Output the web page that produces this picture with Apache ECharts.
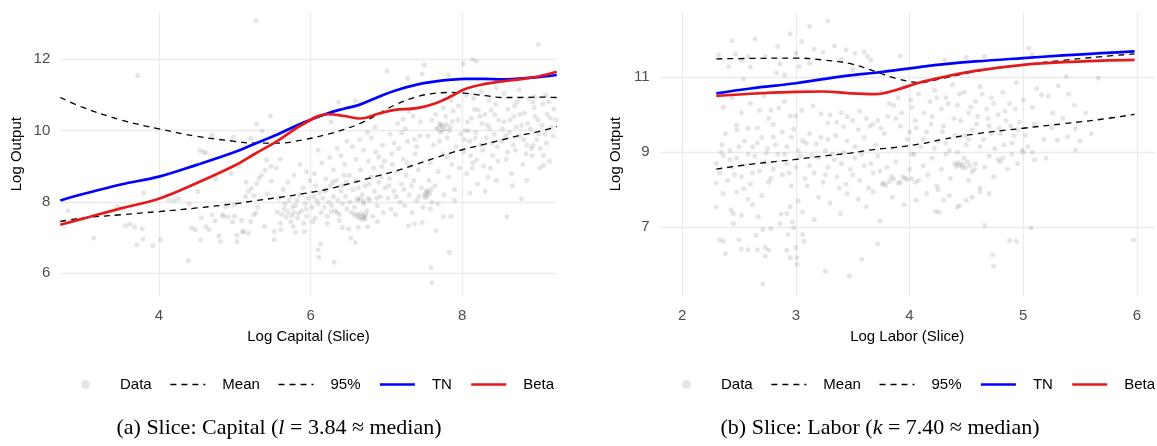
<!DOCTYPE html>
<html><head><meta charset="utf-8">
<script src="https://cdn.jsdelivr.net/npm/echarts@6/dist/echarts.min.js"></script>
<style>html,body{margin:0;padding:0;background:#fff}#c{width:1157px;height:446px}</style>
</head><body><div id="c"></div>
<script>
// ---------- legend / tick labels ----------
const seriesNames = ['Data', 'Mean', '95%', 'TN', 'Beta'];
const capitalXTicks = [4, 6, 8];
const capitalYTicks = [6, 8, 10, 12];
const laborXTicks = [2, 3, 4, 5, 6];
const laborYTicks = [7, 9, 11];

// ---------- panel (a): capital slice curves ----------
const capitalX    = [2.70, 3.0, 3.5, 4.0, 4.5, 5.0, 5.25, 5.57, 5.9, 6.23, 6.45, 6.65, 6.9, 7.11, 7.4, 7.65, 7.86, 8.03, 8.3, 8.52, 8.75, 9.0, 9.245];
const capitalMean = [7.45, 7.55, 7.64, 7.73, 7.83, 7.95, 8.03, 8.12, 8.23, 8.36, 8.48, 8.59, 8.74, 8.86, 9.06, 9.24, 9.38, 9.48, 9.62, 9.74, 9.86, 9.97, 10.11];
const capital95   = [10.93, 10.65, 10.30, 10.05, 9.84, 9.70, 9.65, 9.65, 9.74, 9.90, 10.04, 10.20, 10.47, 10.72, 10.95, 11.05, 11.07, 11.05, 10.98, 10.93, 10.93, 10.94, 10.93];
const capitalTN   = [8.04, 8.22, 8.49, 8.71, 9.04, 9.40, 9.62, 9.90, 10.22, 10.49, 10.62, 10.73, 10.95, 11.12, 11.29, 11.38, 11.43, 11.45, 11.45, 11.44, 11.46, 11.50, 11.56];
const capitalBeta = [7.36, 7.53, 7.82, 8.09, 8.53, 9.02, 9.33, 9.72, 10.18, 10.46, 10.41, 10.34, 10.48, 10.58, 10.63, 10.77, 10.97, 11.16, 11.31, 11.38, 11.44, 11.52, 11.65];

// ---------- panel (a): observed points (log capital, log output) ----------
const capitalPoints = [
[5.28,13.08],[3.72,11.55],[9.0,12.42],[2.80,7.75],[3.14,6.99],[3.80,8.25],[3.56,7.34],[3.62,7.38],[3.68,7.29],[3.78,7.25],[3.79,6.96],[3.71,6.80],[3.92,6.77],[4.02,6.94],[3.45,7.87],[4.13,8.06],[4.20,8.04],[4.26,8.09],[4.40,7.95],[4.39,6.35],[4.51,8.29],[4.43,7.27],[4.48,7.22],[4.55,6.94],[4.62,7.30],[4.66,7.22],[4.56,7.55],[4.70,7.64],[4.74,7.47],[4.79,7.05],[4.81,6.89],[4.85,7.60],[4.91,7.58],[4.97,7.44],[5.00,7.60],[5.09,7.48],[5.10,7.17],[5.03,6.89],[5.03,7.07],[5.12,7.17],[5.18,7.12],[5.21,7.45],[5.25,7.64],[5.28,7.69],[5.30,7.85],[5.14,8.15],[5.18,8.30],[5.22,8.38],[5.29,8.52],[5.32,8.66],[5.40,8.89],[5.42,9.18],[5.48,9.00],[5.48,8.59],[5.43,8.22],[5.39,7.31],[5.52,7.17],[5.52,6.94],[5.25,8.17],[4.99,7.92],[4.88,7.87],[4.84,7.64],
[4.54,9.44],[4.62,9.38],[4.70,9.87],[4.98,9.82],[5.21,9.78],[5.29,10.18],[5.36,10.0],[5.47,10.42],[4.59,9.40],
[4.75,8.65],[4.95,8.80],[5.05,9.00],[5.15,8.55],[5.35,8.75],[5.55,8.95],[5.60,9.20],
[5.61,7.22],[5.77,7.31],[5.92,7.17],[5.80,7.15],[6.13,6.82],[6.10,6.66],[6.11,6.45],[6.31,6.31],[7.59,6.16],[7.60,5.73],[7.83,6.58],[6.59,6.86],[6.53,6.99],[7.65,7.19],[7.29,7.33],[7.37,7.39],[7.47,7.42],[7.75,7.59],[7.85,7.60],[6.27,7.73],[6.35,7.70],[6.63,7.29],[6.42,7.28],[6.50,7.25],[6.70,7.60],[6.72,7.52],[6.75,7.30],[8.59,7.58],[8.78,8.09],[9.07,9.02],[8.93,9.58],
[5.62,7.65],[5.65,7.80],[5.68,7.58],[5.70,7.72],[5.72,8.05],[5.75,7.62],[5.78,7.70],[5.80,7.90],[5.83,7.55],[5.85,8.20],[5.88,7.75],[5.90,8.40],[5.93,7.95],[5.95,7.60],[5.97,8.10],[5.99,8.60],[5.64,8.35],[5.70,8.55],[5.78,8.75],[5.86,9.05],[5.95,8.85],[5.60,7.40],[5.74,7.45],[5.91,7.40],
[5.56,7.72],[5.66,7.95],[5.76,7.85],[5.84,7.68],[5.94,7.80],[5.58,8.10],[5.82,8.05],
[6.02,7.85],[6.04,8.15],[6.06,7.55],[6.08,8.05],[6.10,7.95],[6.12,8.25],[6.14,7.70],[6.16,8.10],[6.18,7.85],[6.20,8.35],[6.22,7.60],[6.24,8.00],[6.26,8.45],[6.28,7.90],[6.30,8.15],[6.32,7.75],[6.34,8.60],[6.36,8.05],[6.38,7.65],[6.40,8.30],[6.42,7.95],[6.44,8.75],[6.46,8.15],[6.48,7.80],[6.05,8.80],[6.15,9.10],[6.25,9.25],[6.35,9.50],[6.45,9.05],[6.10,9.45],[6.20,8.65],[6.30,8.90],[6.40,9.30],[6.48,9.70],[6.03,7.45],[6.22,7.40],[6.38,7.48],[6.37,10.80],[6.59,10.84],[6.27,10.24],
[6.07,8.45],[6.19,8.30],[6.29,8.55],[6.41,8.45],[6.51,8.75],[6.63,8.40],[6.77,8.50],[6.83,8.95],[6.93,8.70],[7.03,8.45],[7.13,8.15],[7.23,8.35],[7.33,8.45],[7.43,8.15],[7.07,9.35],[7.27,9.10],[7.37,9.75],[6.97,9.15],[6.87,8.10],[6.47,8.55],
[6.52,8.00],[6.54,7.70],[6.56,8.35],[6.58,7.85],[6.60,8.60],[6.62,8.10],[6.64,7.55],[6.66,8.90],[6.68,8.20],[6.70,7.95],[6.72,8.45],[6.74,7.75],[6.76,9.15],[6.78,8.05],[6.80,8.70],[6.82,7.60],[6.84,8.30],[6.86,9.40],[6.88,7.90],[6.90,8.55],[6.92,8.15],[6.94,9.00],[6.96,7.70],[6.98,8.40],[6.55,9.55],[6.65,9.75],[6.75,9.95],[6.85,10.10],[6.95,9.60],[6.60,9.20],[6.70,9.45],[6.80,9.80],[6.90,9.25],[6.68,7.50],[6.88,7.45],
[6.58,7.62],[6.61,7.66],[6.64,7.60],[6.67,7.68],[6.70,7.58],[6.73,7.64],[6.62,8.05],[6.66,8.08],[6.70,8.02],[6.76,8.10],
[7.02,8.10],[7.04,8.65],[7.06,7.80],[7.08,9.05],[7.10,8.30],[7.12,7.65],[7.14,8.85],[7.16,9.50],[7.18,8.00],[7.20,8.50],[7.22,9.20],[7.24,7.90],[7.26,8.75],[7.28,9.70],[7.30,8.20],[7.32,9.00],[7.34,7.70],[7.36,8.60],[7.38,9.35],[7.40,8.05],[7.42,8.90],[7.44,9.85],[7.46,8.40],[7.48,7.85],[7.05,9.90],[7.15,10.20],[7.25,10.05],[7.35,10.40],[7.45,10.25],[7.10,9.65],[7.20,9.95],[7.30,10.55],[7.40,9.55],[7.22,10.32],[7.01,11.68],[7.28,11.47],[7.47,11.59],[7.50,11.84],
[7.52,8.25],[7.54,8.15],[7.53,8.32],[7.56,8.60],[7.58,9.10],[7.60,8.00],[7.62,9.60],[7.64,8.45],[7.66,10.05],[7.68,8.85],[7.70,10.20],[7.72,10.16],[7.74,9.35],[7.76,8.20],[7.78,10.40],[7.80,9.80],[7.82,8.70],[7.84,10.10],[7.86,9.05],[7.88,10.55],[7.90,8.35],[7.92,9.55],[7.94,10.30],[7.96,8.95],[7.98,9.90],[7.55,9.85],[7.65,10.45],[7.75,10.65],[7.85,10.85],[7.95,10.70],[7.60,10.30],[7.70,9.70],[7.80,9.25],[7.90,8.05],[7.58,7.80],[7.82,11.56],[7.68,7.95],[7.73,10.00],[7.77,10.05],[7.71,9.95],
[7.50,8.20],[7.55,8.28],[7.57,8.22],[7.51,8.12],[7.59,8.35],[7.69,10.08],[7.74,10.12],[7.79,10.18],[7.83,10.00],[7.87,10.25],
[8.02,9.40],[8.04,10.00],[8.06,8.80],[8.08,10.00],[8.10,9.70],[8.12,10.35],[8.14,9.10],[8.16,10.60],[8.18,9.95],[8.20,8.50],[8.21,10.58],[8.19,9.18],[8.24,9.60],[8.26,10.20],[8.28,9.00],[8.30,10.45],[8.32,9.80],[8.34,8.70],[8.36,10.05],[8.38,10.58],[8.40,9.30],[8.42,9.90],[8.44,10.75],[8.46,9.55],[8.48,10.30],[8.05,11.00],[8.15,10.90],[8.25,11.10],[8.35,10.85],[8.45,11.20],[8.14,12.00],[8.19,11.95],[8.01,11.87],[8.10,8.25],[8.30,8.30],[8.45,8.60],
[8.03,9.75],[8.07,10.25],[8.11,9.30],[8.17,9.80],[8.23,10.40],[8.27,9.45],[8.33,10.15],[8.39,9.65],[8.43,10.45],[8.47,9.15],[8.13,8.95],[8.37,8.95],
[8.52,9.70],[8.55,10.25],[8.58,9.20],[8.60,10.60],[8.62,9.95],[8.65,8.80],[8.68,10.40],[8.70,9.45],[8.72,10.80],[8.75,9.85],[8.78,10.15],[8.80,9.05],[8.82,10.50],[8.85,9.60],[8.88,10.90],[8.90,10.05],[8.92,9.30],[8.95,10.65],[8.98,9.75],[9.00,10.30],[9.03,9.50],[9.06,10.75],[9.09,9.90],[9.12,10.45],[9.15,9.15],[9.18,10.10],[9.21,10.60],[9.24,10.30],[8.55,11.05],[8.75,11.15],[8.95,10.95],[9.10,11.00],[8.66,8.45],[8.85,8.60],[9.02,8.95],
[8.53,10.05],[8.57,9.85],[8.63,10.30],[8.67,9.60],[8.71,10.10],[8.76,10.45],[8.81,9.75],[8.86,10.20],[8.91,9.50],[8.96,10.40],[9.01,9.90],[9.05,10.15],[9.11,9.65],[9.16,10.35],[9.20,9.85],[8.60,9.40],[8.84,9.35],[9.07,9.30],[8.69,10.70],[8.93,10.80],[9.14,10.80]
];

// ---------- panel (b): labor slice curves ----------
const laborX    = [2.30, 2.6, 3.0, 3.24, 3.48, 3.70, 3.88, 4.09, 4.29, 4.58, 5.0, 5.35, 5.69, 5.98];
const laborMean = [8.55, 8.68, 8.81, 8.90, 8.98, 9.08, 9.13, 9.22, 9.34, 9.49, 9.64, 9.76, 9.88, 10.01];
const labor95   = [11.49, 11.50, 11.51, 11.46, 11.36, 11.15, 10.97, 10.86, 10.97, 11.15, 11.33, 11.45, 11.55, 11.62];
const laborTN   = [10.57, 10.70, 10.84, 10.95, 11.05, 11.12, 11.19, 11.27, 11.34, 11.42, 11.51, 11.58, 11.64, 11.69];
const laborBeta = [10.50, 10.56, 10.61, 10.62, 10.57, 10.55, 10.66, 10.86, 11.00, 11.17, 11.33, 11.40, 11.44, 11.46];

// ---------- panel (b): observed points (log labor, log output) ----------
const laborPoints = [
[2.44,11.97],[2.64,12.02],[2.95,12.16],[3.12,12.35],[3.28,12.50],[2.47,11.62],[2.41,11.28],[2.60,11.27],[2.52,11.45],[2.73,11.55],[2.84,11.82],[2.83,11.12],[2.90,11.06],[2.86,11.35],[3.0,11.64],[3.03,11.28],[3.16,11.75],[3.12,11.37],[3.24,11.66],[3.34,11.84],[3.44,11.73],[3.52,11.64],[3.60,11.68],[3.63,11.55],[3.66,11.45],[3.40,11.48],[3.92,11.57],[4.31,11.46],[4.50,11.53],[4.66,11.55],[5.05,11.77],[5.08,11.60],[2.54,10.95],[2.32,11.60],[2.58,11.55],[3.05,11.95],[3.50,11.20],
[5.38,11.02],[5.31,10.77],[5.16,10.53],[5.22,10.50],[5.40,10.55],[5.26,10.04],[5.46,9.62],[5.60,9.50],[5.39,9.41],[5.30,9.32],[5.46,9.06],[5.04,9.15],[4.99,9.06],[5.50,9.30],[5.35,9.90],[5.45,10.25],[5.66,10.97],[5.55,10.05],
[2.68,10.11],[2.90,10.35],[2.78,10.12],[2.85,10.18],[3.0,9.97],[2.95,9.97],[3.05,10.11],[3.15,10.23],[3.22,10.02],[3.30,10.0],[3.40,10.05],[3.45,9.95],[3.50,9.85],[3.56,10.10],[3.62,9.90],[3.68,9.75],[3.75,9.65],[3.28,9.78],[3.36,9.80],[3.42,9.68],[3.55,9.60],
[2.36,10.20],[2.44,10.45],[2.52,10.05],[2.60,10.30],[2.72,10.50],[2.76,9.90],
[3.75,10.60],[3.82,10.30],[3.90,10.45],[3.95,10.75],[4.02,10.20],[4.08,10.55],[4.12,10.85],[4.18,10.35],[4.22,10.65],[4.28,10.15],[4.32,10.45],[4.38,10.80],[4.42,10.25],[4.48,10.60],[4.52,10.05],[4.58,10.35],[4.62,10.75],[4.68,10.15],[4.72,10.45],[4.78,10.0],[4.82,10.60],[4.88,10.30],[4.94,10.85],[5.0,10.40],[5.08,10.20],[5.12,10.70],
[3.72,9.85],[3.81,9.95],[3.86,10.25],[3.93,10.05],[4.01,10.40],[4.06,9.65],[4.13,10.05],[4.19,9.75],[4.24,10.45],[4.29,9.55],[4.34,10.30],[4.39,9.90],[4.44,10.55],[4.49,9.45],[4.54,10.20],[4.59,9.75],[4.64,10.55],[4.69,9.90],[4.74,10.30],[4.79,9.65],[4.84,10.10],[4.89,9.70],[4.93,10.15],[4.97,9.80],
[2.48,9.73],[2.48,9.60],[2.58,9.64],[2.66,9.65],[2.80,9.75],[2.80,9.41],[2.88,9.55],[2.96,9.40],[2.98,9.62],[3.09,9.24],[3.18,9.22],[3.28,9.35],[3.35,9.45],[2.38,9.50],[2.35,9.20],[2.42,9.05],[2.55,9.30],[2.62,9.15],[2.70,9.40],[2.75,9.10],[2.92,9.15],[3.02,9.05],[3.12,9.50],[3.22,9.40],[3.45,9.30],[3.52,9.15],[3.60,9.40],[3.70,9.20],[3.78,9.50],[3.85,9.10],[3.92,9.70],[3.98,9.35],[4.05,9.85],[4.10,9.15],[4.15,9.55],[4.20,9.95],[4.25,9.30],[4.30,9.70],[4.35,9.05],[4.40,9.45],[4.45,9.85],[4.50,9.20],[4.55,9.60],[4.60,9.95],[4.65,9.35],[4.70,9.70],[4.75,9.10],[4.80,9.50],[4.85,9.85],[4.90,9.25],[4.95,9.60],[5.02,9.45],[5.10,9.75],[5.18,9.35],[5.25,9.65],[3.65,9.70],[3.88,9.90],[4.00,9.55],
[4.02,8.95],[4.12,9.35],[4.22,9.10],[4.32,9.25],[4.42,9.00],[4.52,9.35],[4.62,9.15],[4.72,9.50],[4.83,9.20],[4.92,9.45],
[2.34,9.00],[2.42,8.80],[2.50,9.15],[2.58,8.95],[2.66,9.25],[2.74,8.98],[2.82,9.20],[2.90,8.95],[3.06,9.30],[3.14,8.92],[3.26,9.05],[3.34,8.80],[3.42,9.00],[3.50,8.40],[3.58,8.95],[3.66,8.70],[3.74,8.50],[2.46,8.40],[2.62,8.45],[2.78,8.30],[2.94,8.45],[3.10,8.10],[3.26,8.40],[3.38,8.05],
[2.30,8.70],[2.33,8.45],[2.36,8.90],[2.40,8.25],[2.44,8.60],[2.48,8.85],[2.52,8.35],[2.56,8.65],[2.60,8.15],[2.64,8.90],[2.68,8.50],[2.72,8.75],[2.76,8.20],[2.80,8.55],[2.84,8.95],[2.88,8.40],[2.92,8.70],[2.96,8.10],[3.00,8.60],[3.04,8.90],[3.08,8.30],[3.12,8.65],[3.16,8.45],[3.20,8.85],[3.24,8.20],[3.28,8.60],[3.32,8.95],[3.36,8.35],[3.40,8.70],[3.44,8.15],[3.48,8.55],[3.52,8.85],[3.56,8.25],[3.60,8.65],[3.64,8.05],[3.68,8.45],[3.72,8.90],[3.76,8.15],[3.77,8.18],[3.79,8.12],[3.80,8.60],[3.84,8.35],[3.88,8.75],[3.92,8.20],[3.96,8.31],[3.98,8.28],[4.00,8.55],[4.04,8.95],[4.08,8.25],[4.12,8.65],[4.16,8.40],[4.20,8.85],[4.24,8.10],[4.28,8.55],[4.32,8.95],[4.36,8.30],[4.40,8.70],[4.44,8.66],[4.46,8.60],[4.48,8.85],[4.52,8.25],[4.55,8.48],[4.58,8.70],[4.62,8.05],[4.66,8.60],[4.70,8.90],[4.74,8.35],[4.78,8.80],[4.80,8.75],[4.82,8.85],[4.86,8.55],[4.90,8.95],[4.95,8.70],[5.00,9.00],[5.08,9.00],[5.10,8.80],[5.20,8.85],
[4.41,8.62],[4.43,8.72],[4.47,8.68],[4.49,8.58],[4.51,8.75],[4.53,8.65],[4.57,8.55],[3.82,8.22],[3.86,8.28],[3.90,8.18],[3.94,8.35],[4.02,8.30],[4.05,8.20],
[2.30,8.18],[2.36,7.90],[2.30,7.54],[2.43,7.47],[2.45,7.37],[2.48,7.94],[2.54,8.03],[2.52,7.32],[2.45,7.10],[2.58,7.75],[2.62,7.60],[2.67,7.28],[2.70,7.85],[2.86,7.10],[2.87,7.35],[2.92,7.37],[2.95,7.55],[2.97,7.14],[2.98,6.99],[3.02,7.70],[3.06,7.41],[3.16,7.21],[3.20,7.80],[3.30,7.65],[3.39,7.37],[3.45,7.90],[3.55,7.75],[3.62,7.55],[3.68,7.95],[3.74,7.17],[3.85,7.80],[4.06,7.72],[4.15,7.90],[4.23,7.43],[4.26,7.40],[4.30,7.72],[4.35,7.85],[4.42,7.54],[4.44,7.58],[4.50,7.72],[4.55,7.80],[4.62,7.95],[4.70,7.90],[4.25,8.00],[3.95,7.60],
[2.33,6.67],[2.36,6.62],[2.38,6.30],[2.50,6.67],[2.52,6.42],[2.58,6.40],[2.66,6.40],[2.65,6.79],[2.73,6.47],[2.76,6.39],[2.73,6.23],[2.71,5.49],[2.71,6.94],[2.78,6.96],[2.93,6.81],[2.92,6.39],[2.95,6.19],[3.01,6.19],[3.01,6.01],[3.00,6.46],[3.06,6.81],[3.07,6.63],[3.26,5.83],[3.47,5.71],[3.58,6.15],[3.72,6.56],[4.66,7.05],[5.07,6.99],[4.88,6.65],[4.94,6.63],[4.73,6.27],[4.74,5.97],[5.97,6.67]
];

// ---------- build chart ----------
function pairs(xs, ys) { return xs.map((x, i) => [x, ys[i]]); }
const FONT = 'Liberation Sans';
const SERIF = 'Liberation Serif';
const POINT_COLOR = 'rgba(110,110,110,0.22)';

function gridLines(xt, yt) {
  return xt.map(v => ({ xAxis: v })).concat(yt.map(v => ({ yAxis: v })));
}

function panelSeries(i, pts, xs, mean, q95, tn, beta, xt, yt) {
  const common = { xAxisIndex: i, yAxisIndex: i, animation: false };
  return [
    Object.assign({ type: 'line', name: 'gridlines', data: [], silent: true, z: 0,
      markLine: { silent: true, symbol: ['none', 'none'], label: { show: false }, z: 0,
        lineStyle: { color: '#ebebeb', width: 1.3, type: 'solid' },
        emphasis: { disabled: true }, animation: false, data: gridLines(xt, yt) } }, common),
    Object.assign({ type: 'scatter', name: 'Data', data: pts, symbol: 'circle', symbolSize: 5,
      itemStyle: { color: POINT_COLOR }, z: 2, silent: true }, common),
    Object.assign({ type: 'line', name: 'Mean', data: pairs(xs, mean), symbol: 'none', smooth: 0.4,
      itemStyle: { color: '#000' }, lineStyle: { color: '#000', width: 1.3, type: [6, 5] }, z: 3 }, common),
    Object.assign({ type: 'line', name: '95%', data: pairs(xs, q95), symbol: 'none', smooth: 0.4,
      itemStyle: { color: '#000' }, lineStyle: { color: '#000', width: 1.3, type: [6, 5] }, z: 3 }, common),
    Object.assign({ type: 'line', name: 'TN', data: pairs(xs, tn), symbol: 'none', smooth: 0.4,
      itemStyle: { color: '#0000ff' }, lineStyle: { color: '#0000ff', width: 2.7 }, z: 4 }, common),
    Object.assign({ type: 'line', name: 'Beta', data: pairs(xs, beta), symbol: 'none', smooth: 0.4,
      itemStyle: { color: '#e41a1c' }, lineStyle: { color: '#e41a1c', width: 2.7 }, z: 5 }, common)
  ];
}

function xAxisCfg(i, min, max, ticks, name) {
  return { type: 'value', gridIndex: i, min: min, max: max,
    axisLine: { show: false }, axisTick: { show: false }, splitLine: { show: false },
    axisLabel: { customValues: ticks, margin: 12, fontFamily: FONT, fontSize: 15, color: '#4d4d4d' },
    name: name, nameLocation: 'middle', nameGap: 33,
    nameTextStyle: { fontFamily: FONT, fontSize: 15, color: '#000' } };
}
function yAxisCfg(i, min, max, ticks) {
  return { type: 'value', gridIndex: i, min: min, max: max,
    axisLine: { show: false }, axisTick: { show: false }, splitLine: { show: false },
    axisLabel: { customValues: ticks, margin: 10, fontFamily: FONT, fontSize: 15, color: '#4d4d4d' },
    name: 'Log Output', nameLocation: 'middle', nameGap: 36,
    nameTextStyle: { fontFamily: FONT, fontSize: 15, color: '#000' } };
}

const hiddenMarker = { color: 'rgba(0,0,0,0)', borderColor: 'rgba(0,0,0,0)', borderWidth: 0, opacity: 0 };
const legendData = seriesNames.map(n => {
  if (n === 'Data') return { name: n };
  const w = (n === 'TN' || n === 'Beta') ? 2.7 : 1.3;
  return { name: n, itemStyle: hiddenMarker, lineStyle: { width: w } };
});

const legendCfg = (left) => ({
  left: left, top: 372, width: 700, orient: 'horizontal', itemWidth: 35, itemHeight: 9, itemGap: 18,
  selectedMode: false, data: legendData,
  textStyle: { fontFamily: FONT, fontSize: 15, color: '#000', padding: [0, 0, 0, 12] }
});

const option = {
  animation: false,
  backgroundColor: '#fff',
  grid: [
    { left: 60.3, top: 12.3, width: 496.4, height: 283.7 },
    { left: 659.5, top: 12.3, width: 495.5, height: 283.7 }
  ],
  xAxis: [
    xAxisCfg(0, 2.70, 9.245, capitalXTicks, 'Log Capital (Slice)'),
    xAxisCfg(1, 1.80, 6.16, laborXTicks, 'Log Labor (Slice)')
  ],
  yAxis: [
    yAxisCfg(0, 5.36, 13.32, capitalYTicks),
    yAxisCfg(1, 5.17, 12.73, laborYTicks)
  ],
  legend: [legendCfg(76), legendCfg(677)],
  series: panelSeries(0, capitalPoints, capitalX, capitalMean, capital95, capitalTN, capitalBeta, capitalXTicks, capitalYTicks)
    .concat(panelSeries(1, laborPoints, laborX, laborMean, labor95, laborTN, laborBeta, laborXTicks, laborYTicks)),
  graphic: [
    { type: 'text', x: 279, y: 428, silent: true,
      style: { text: '(a) Slice: Capital ({i|l} = 3.84 ≈ median)', fontFamily: SERIF, fontSize: 22, fill: '#000',
        align: 'center', verticalAlign: 'middle',
        rich: { i: { fontFamily: SERIF, fontSize: 22, fontStyle: 'italic', fill: '#000' } } } },
    { type: 'text', x: 880, y: 428, silent: true,
      style: { text: '(b) Slice: Labor ({i|k} = 7.40 ≈ median)', fontFamily: SERIF, fontSize: 22, fill: '#000',
        align: 'center', verticalAlign: 'middle',
        rich: { i: { fontFamily: SERIF, fontSize: 22, fontStyle: 'italic', fill: '#000' } } } }
  ]
};

const chart = echarts.init(document.getElementById('c'), null, { renderer: 'canvas' });
chart.setOption(option);
</script>
</body></html>
